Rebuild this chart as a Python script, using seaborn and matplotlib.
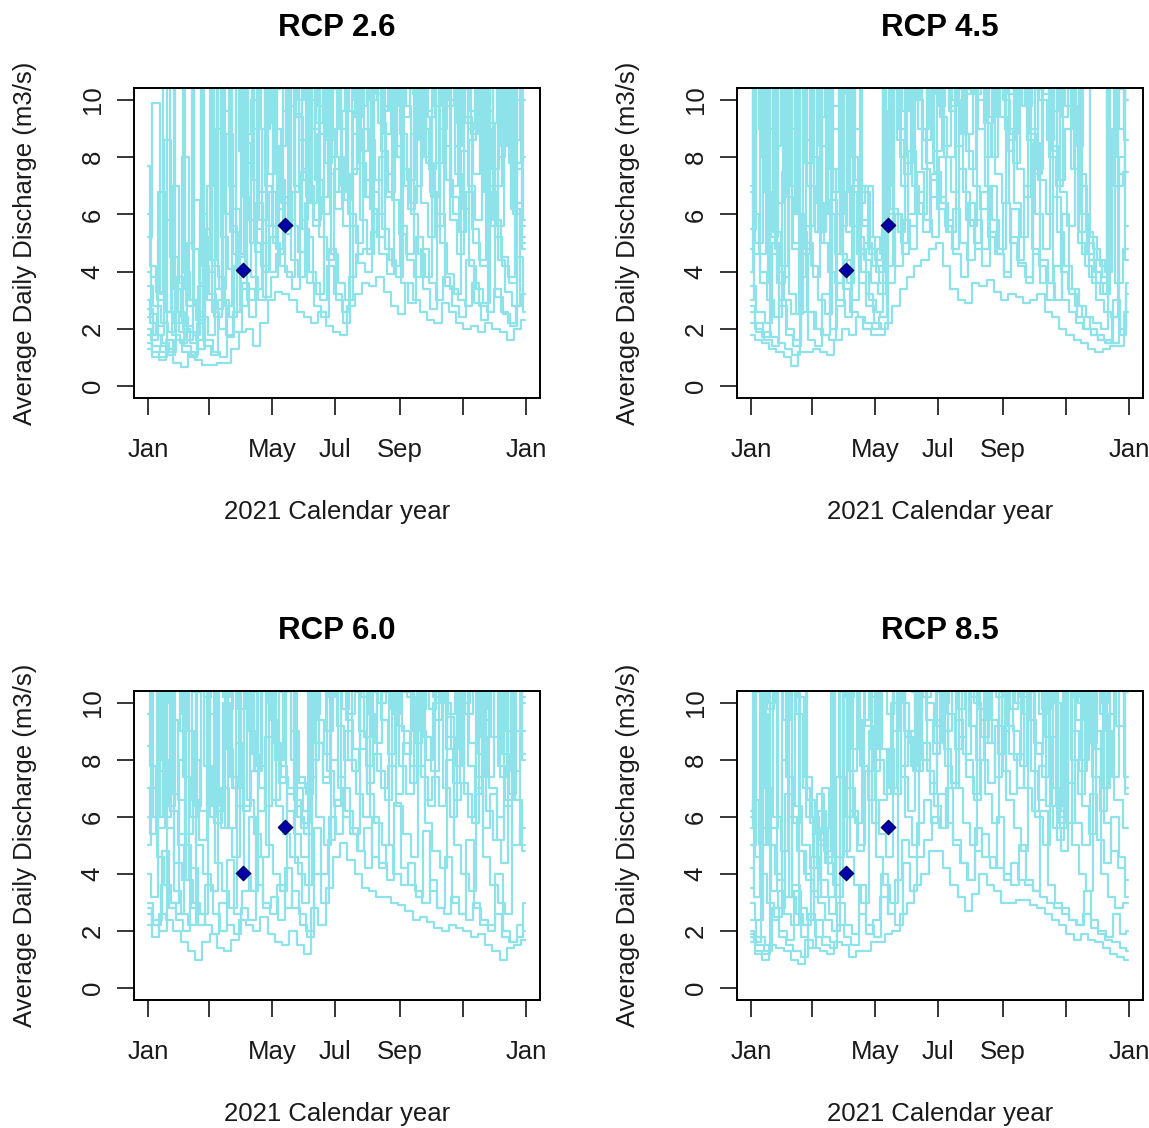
import matplotlib
matplotlib.use("Agg")
import matplotlib.pyplot as plt
import numpy as np
import pandas as pd
import seaborn as sns

# ---------------- data (weekly samples of daily discharge traces, m3/s) ----------------
start_date = "2021-01-01"
n_weeks = 53
trace_day_offsets = [0, 3, -2, 1, -3, 2, -1, 0.5, -1.5, 2.5, -2.5, 1.5]

titles = ["RCP 2.6", "RCP 4.5", "RCP 6.0", "RCP 8.5"]

rcp26_traces = [
    [1.3,1.0,0.9,1.6,0.8,0.66,1.2,0.9,0.75,0.72,0.8,0.8,1.3,1.9,2.0,1.4,2.2,3.0,3.3,3.2,3.0,2.6,2.4,2.2,2.6,2.1,1.9,1.8,2.8,3.2,3.6,3.5,3.8,3.3,2.8,2.5,3.6,3.0,2.6,2.3,2.2,2.9,2.6,2.2,2.0,2.1,1.9,2.2,2.0,1.9,1.6,2.0,2.3],
    [2.7,1.8,1.5,1.3,2.6,1.4,1.1,3.5,1.6,1.2,1.0,2.8,1.9,3.6,2.4,5.5,3.1,3.8,6.2,4.0,3.4,7.5,3.6,2.8,2.4,4.8,3.0,2.2,5.6,4.3,4.0,6.8,4.6,3.9,8.0,3.6,2.9,5.2,3.4,2.7,6.0,3.5,2.8,2.4,4.4,2.9,2.3,7.0,3.1,2.5,2.1,4.5,2.6],
    [4.0,2.5,2.1,5.8,2.6,1.9,1.6,6.5,2.4,1.8,9.0,3.0,2.4,4.5,8.5,3.8,3.0,12.0,5.0,4.2,3.8,9.5,5.5,4.0,3.2,12.0,4.6,3.6,3.0,8.8,5.8,4.6,11.0,5.5,4.4,3.8,9.8,6.0,4.6,3.8,12.0,5.0,3.9,3.2,8.2,4.2,3.4,2.9,11.0,4.4,3.3,2.8,5.6],
    [5.2,9.9,3.2,2.6,2.2,8.0,3.0,2.3,4.6,12.0,3.8,2.8,6.2,3.4,12.0,5.0,4.2,6.8,4.8,12.0,5.6,4.7,6.4,12.0,5.2,4.4,7.6,12.0,6.0,5.0,9.0,6.2,5.2,12.0,6.5,5.3,4.6,12.0,6.4,5.2,7.8,12.0,5.8,4.6,9.4,5.5,4.4,12.0,5.8,4.5,3.8,10.0,4.8],
    [7.7,4.2,3.3,12.0,4.5,3.4,12.0,4.8,3.6,7.0,12.0,5.2,4.1,12.0,6.6,5.0,12.0,7.0,5.6,8.4,12.0,7.0,5.8,12.0,7.2,6.0,12.0,8.0,6.5,12.0,7.8,6.6,12.0,8.2,6.8,12.0,7.6,6.4,12.0,8.0,6.6,12.0,7.2,6.0,12.0,7.0,5.8,12.0,6.8,5.6,12.0,6.2,5.0],
    [3.5,2.8,2.2,1.9,12.0,4.0,3.0,2.6,12.0,4.2,3.4,8.8,4.6,12.0,5.8,4.7,9.0,12.0,6.2,5.3,12.0,8.6,6.6,5.6,12.0,7.4,6.2,9.6,12.0,7.8,6.6,12.0,9.2,7.4,12.0,8.8,7.2,12.0,9.0,7.6,12.0,8.4,7.0,12.0,9.2,7.4,12.0,8.6,7.0,12.0,7.8,6.4,8.0],
    [2.0,1.6,6.8,2.6,1.8,1.5,5.0,12.0,4.2,3.2,2.7,12.0,5.4,4.0,12.0,7.2,5.8,12.0,8.0,6.4,12.0,9.4,7.2,12.0,9.8,7.8,12.0,9.0,12.0,10.0,8.2,12.0,10.2,12.0,9.6,8.0,12.0,10.4,8.6,12.0,9.8,12.0,10.0,8.4,12.0,9.6,12.0,9.0,7.6,12.0,9.2,7.8,10.0],
    [1.5,1.2,1.0,12.0,3.4,2.4,1.9,1.6,12.0,4.4,12.0,6.0,12.0,8.2,12.0,9.0,12.0,7.4,12.0,9.6,12.0,10.0,12.0,9.0,12.0,8.6,12.0,7.0,12.0,9.4,12.0,10.0,12.0,8.8,12.0,9.8,12.0,10.2,12.0,9.4,12.0,10.0,12.0,9.2,12.0,8.8,12.0,9.6,12.0,8.4,12.0,7.6,12.0],
    [6.0,3.8,3.0,2.6,7.0,3.6,2.8,12.0,5.2,4.0,3.4,9.6,5.6,4.6,7.8,12.0,6.8,5.6,9.0,6.6,5.8,12.0,7.6,6.4,8.8,12.0,8.0,6.8,9.6,7.6,12.0,8.6,7.2,9.8,12.0,8.4,7.0,8.8,12.0,7.8,6.6,9.0,12.0,7.4,6.2,8.6,12.0,6.8,5.6,8.0,12.0,6.0,5.2],
    [2.4,1.8,1.4,1.2,3.8,2.0,1.5,1.3,5.5,2.6,2.0,1.7,4.2,2.8,3.4,6.4,4.0,5.2,7.2,5.6,6.8,12.0,7.0,5.8,6.6,9.0,6.8,5.6,7.4,12.0,7.2,6.0,8.0,6.6,12.0,7.6,6.2,7.0,9.4,6.8,5.6,12.0,6.6,5.4,6.8,5.0,4.2,9.2,5.2,4.2,3.6,12.0,5.8],
    [3.0,2.2,1.8,8.6,3.6,2.6,2.1,1.8,6.0,3.0,2.4,12.0,7.0,12.0,8.8,10.0,12.0,9.2,10.4,12.0,9.8,10.6,12.0,10.0,9.2,12.0,10.4,9.6,12.0,10.8,9.8,12.0,10.6,9.6,12.0,10.4,9.4,12.0,10.2,9.6,12.0,10.8,9.8,12.0,10.4,9.0,12.0,10.2,9.2,12.0,9.6,8.6,12.0],
    [1.8,1.4,1.2,1.1,1.6,1.2,1.0,2.2,1.4,1.1,3.0,1.8,2.6,4.6,3.0,3.4,5.0,4.0,4.6,5.8,4.4,3.8,5.2,3.6,3.0,4.2,3.2,2.6,3.8,4.6,4.8,5.4,6.0,4.8,4.2,5.6,4.4,3.8,4.8,3.6,3.0,3.8,3.4,3.0,2.8,3.6,2.8,2.6,3.4,2.6,2.2,2.8,3.2],
]

rcp45_traces = [
    [1.8,1.6,1.5,1.3,1.2,1.0,0.7,1.2,1.2,1.3,1.2,1.1,1.6,2.0,1.8,2.4,2.0,1.8,1.8,2.2,2.8,3.4,3.8,4.2,4.4,4.8,5.0,4.2,3.4,3.0,2.9,3.6,3.5,3.7,3.3,3.0,3.2,3.1,2.9,3.0,3.2,2.6,2.4,2.0,1.8,1.6,1.5,1.3,1.2,1.3,1.4,1.4,2.6],
    [3.5,2.6,2.2,5.0,2.8,2.0,1.6,4.6,2.6,2.0,1.8,6.5,3.0,2.4,7.0,3.6,2.8,2.2,2.0,6.0,4.2,5.8,4.8,7.5,5.8,5.2,8.0,5.8,4.6,3.8,6.4,4.8,4.2,7.0,4.6,3.8,6.2,4.3,3.6,8.5,4.4,3.6,3.0,6.0,3.2,2.4,2.0,1.8,1.6,1.5,3.0,2.0,3.2],
    [4.8,12.0,4.0,3.0,2.4,7.5,3.2,2.5,12.0,4.2,3.0,2.5,12.0,4.6,3.6,9.0,4.0,3.0,2.6,12.0,6.2,5.4,12.0,7.0,6.0,12.0,7.5,6.4,5.4,12.0,6.8,5.6,12.0,7.0,5.8,4.8,12.0,6.4,5.2,12.0,6.0,4.8,12.0,5.4,4.2,3.4,2.8,2.4,2.2,2.0,12.0,3.6,4.8],
    [6.8,5.0,12.0,4.6,3.6,12.0,4.8,3.8,5.6,12.0,5.0,4.0,3.6,12.0,5.6,4.6,5.0,4.2,3.6,4.2,12.0,7.0,6.0,12.0,7.6,6.6,12.0,8.0,6.8,12.0,8.2,7.0,6.2,12.0,7.4,6.4,12.0,7.6,6.6,12.0,7.2,6.0,12.0,6.8,5.6,12.0,4.6,3.8,3.0,2.6,2.4,12.0,5.6],
    [12.0,6.0,4.6,12.0,5.4,4.2,12.0,6.0,4.6,12.0,6.4,5.0,12.0,6.8,5.4,12.0,5.8,4.8,4.4,5.5,12.0,8.6,7.4,12.0,9.0,7.8,12.0,9.4,8.0,12.0,8.8,7.6,12.0,9.2,8.0,12.0,9.0,7.8,12.0,8.6,7.4,12.0,8.0,7.0,12.0,7.6,5.0,4.2,3.6,3.2,12.0,7.0,7.5],
    [5.5,12.0,6.8,5.2,12.0,6.6,5.0,12.0,7.0,5.4,12.0,7.6,6.0,12.0,8.0,6.4,7.0,5.2,4.6,8.0,12.0,9.6,12.0,10.0,8.6,12.0,9.8,12.0,10.0,8.8,12.0,10.2,12.0,9.4,12.0,10.0,8.8,12.0,9.8,12.0,10.0,8.6,12.0,9.4,12.0,8.4,12.0,5.2,4.4,4.0,9.0,12.0,10.0],
    [3.0,12.0,8.0,12.0,6.4,12.0,7.0,12.0,7.8,12.0,8.4,12.0,9.0,12.0,9.6,12.0,6.8,4.8,4.2,12.0,10.4,12.0,10.0,12.0,10.6,12.0,10.2,12.0,9.8,12.0,10.4,12.0,10.0,12.0,10.6,12.0,10.2,12.0,9.8,12.0,10.4,12.0,9.6,12.0,9.8,12.0,7.0,5.0,4.4,3.8,12.0,9.0,12.0],
    [2.6,2.0,1.7,12.0,4.0,3.0,2.5,12.0,5.0,3.8,12.0,6.0,4.6,12.0,6.8,5.2,4.4,3.6,3.2,12.0,12.0,8.0,12.0,12.0,9.0,12.0,12.0,8.4,12.0,12.0,8.8,12.0,12.0,9.2,12.0,12.0,8.6,12.0,12.0,9.0,12.0,12.0,8.2,12.0,12.0,7.6,6.0,4.4,3.6,3.2,12.0,7.4,12.0],
    [7.0,4.6,3.6,9.0,4.8,3.8,12.0,6.0,4.8,8.0,5.4,12.0,6.8,5.6,12.0,7.2,5.6,4.6,4.0,7.0,12.0,9.0,7.8,10.0,12.0,9.2,8.2,12.0,9.6,8.4,10.2,12.0,9.0,8.0,12.0,9.4,8.2,10.0,12.0,8.8,7.6,12.0,8.4,7.2,9.0,12.0,5.4,4.6,4.0,3.6,8.0,12.0,8.6],
    [2.2,1.9,1.6,1.4,3.0,1.8,1.4,2.6,1.6,1.4,3.2,2.0,2.8,4.4,3.0,4.8,3.2,2.6,2.4,3.6,6.0,4.6,5.6,6.8,5.8,7.4,6.6,5.4,6.2,5.0,4.4,5.8,4.8,5.4,4.6,4.0,5.2,4.2,3.8,4.6,3.6,3.0,4.2,3.0,2.6,2.2,2.0,1.8,1.6,1.5,2.4,1.8,3.6],
    [4.0,12.0,9.0,12.0,8.4,12.0,9.0,12.0,8.6,12.0,9.4,12.0,9.8,12.0,10.2,12.0,7.0,5.2,4.8,12.0,12.0,10.6,12.0,11.0,12.0,10.8,12.0,11.0,12.0,10.4,12.0,10.8,12.0,11.0,12.0,10.6,12.0,10.4,12.0,10.8,12.0,10.2,12.0,10.6,12.0,9.8,7.4,5.4,4.8,4.2,12.0,10.4,12.0],
    [2.8,2.2,1.9,1.7,1.5,1.3,1.1,5.4,2.6,2.0,1.8,1.6,7.6,3.4,2.6,2.4,2.2,2.0,2.4,9.6,6.0,5.0,8.2,6.4,5.4,7.2,6.2,5.6,4.8,7.6,5.8,5.0,6.8,5.2,4.6,6.4,5.0,4.4,7.0,4.8,4.2,3.6,6.6,4.0,3.4,2.8,2.4,2.0,1.8,1.6,1.5,8.0,4.4],
]

rcp60_traces = [
    [2.2,1.8,2.6,2.4,2.0,1.6,1.3,1.0,1.6,1.9,1.4,1.3,1.7,2.4,2.2,2.0,2.5,1.9,1.6,1.5,2.0,1.5,1.2,2.8,2.2,3.5,4.6,5.1,4.5,4.0,3.5,3.4,3.2,3.2,3.0,2.9,2.7,2.4,2.5,2.3,2.1,2.0,2.2,2.1,2.0,1.8,1.9,1.5,1.3,1.0,1.4,1.5,1.7],
    [3.0,2.4,4.8,3.0,2.6,5.0,2.8,2.2,3.6,2.6,2.0,4.5,2.6,3.4,6.0,3.6,2.8,3.2,2.4,4.2,2.8,2.2,1.8,4.0,3.0,6.0,5.4,7.0,5.6,4.8,4.2,6.0,4.4,3.8,6.5,4.2,3.6,3.2,5.5,3.4,2.8,4.6,3.0,2.6,5.2,2.8,2.4,2.2,4.0,2.0,1.6,1.8,3.0],
    [5.0,12.0,4.6,3.6,3.0,8.0,3.8,3.0,2.6,12.0,4.4,3.4,2.8,7.4,4.0,3.4,12.0,5.0,4.0,3.4,6.8,4.4,3.0,12.0,6.0,5.0,12.0,7.4,6.2,5.4,12.0,6.8,5.8,5.0,12.0,6.4,5.4,4.6,12.0,5.8,4.8,4.2,9.5,5.0,4.0,3.4,12.0,4.6,3.6,3.0,2.6,12.0,5.0],
    [8.5,6.0,12.0,5.6,4.4,3.8,12.0,5.0,4.0,3.4,12.0,5.6,4.6,12.0,6.6,5.4,4.6,12.0,6.4,5.4,4.6,4.0,3.6,8.0,12.0,7.6,6.4,12.0,8.0,6.8,6.0,12.0,7.6,6.6,12.0,7.8,6.8,12.0,7.4,6.4,12.0,7.0,6.0,12.0,6.8,5.8,12.0,6.2,5.2,4.4,12.0,6.6,4.8],
    [12.0,7.8,6.0,12.0,6.2,5.0,12.0,6.6,5.2,12.0,7.0,5.6,12.0,7.4,6.2,12.0,7.8,6.4,12.0,7.2,12.0,6.6,5.6,12.0,8.6,7.4,12.0,9.2,8.0,12.0,9.0,7.8,12.0,9.4,8.2,12.0,9.0,7.8,12.0,8.8,7.6,12.0,8.4,7.2,12.0,7.8,6.8,12.0,7.0,6.0,12.0,7.6,9.0],
    [6.0,12.0,8.0,6.4,12.0,7.4,6.0,12.0,7.8,6.4,12.0,8.4,7.0,12.0,9.0,7.6,12.0,9.4,8.0,12.0,9.0,7.2,6.8,9.6,12.0,10.2,12.0,9.8,12.0,10.4,8.8,12.0,10.0,12.0,9.6,12.0,10.2,8.6,12.0,9.8,12.0,10.0,8.4,12.0,9.6,12.0,8.8,7.4,12.0,8.2,6.8,12.0,8.2],
    [4.0,3.2,12.0,10.0,12.0,9.0,12.0,10.4,12.0,9.6,12.0,10.2,12.0,9.8,12.0,10.6,12.0,10.0,12.0,10.4,12.0,7.0,6.2,12.0,10.8,12.0,10.4,12.0,11.0,12.0,10.2,12.0,10.6,12.0,10.0,12.0,10.4,12.0,9.8,12.0,10.2,12.0,9.6,12.0,10.0,12.0,9.4,12.0,8.8,12.0,9.0,12.0,10.0],
    [2.8,2.2,2.0,12.0,3.4,2.6,2.2,12.0,12.0,6.0,12.0,12.0,7.0,12.0,12.0,7.6,12.0,12.0,8.0,12.0,12.0,6.0,5.4,12.0,12.0,9.0,12.0,12.0,9.6,12.0,12.0,9.2,12.0,12.0,9.8,12.0,12.0,9.0,12.0,12.0,9.4,12.0,12.0,8.8,12.0,12.0,8.2,12.0,12.0,7.4,12.0,12.0,8.0],
    [9.6,7.0,5.6,12.0,6.8,5.4,9.0,6.4,12.0,7.6,6.2,10.0,7.4,6.4,12.0,8.2,7.0,12.0,8.6,7.4,7.0,6.4,5.8,12.0,9.4,8.2,10.6,12.0,9.4,8.4,12.0,9.6,8.6,10.4,12.0,9.2,8.2,12.0,9.0,8.0,10.0,12.0,8.8,7.8,12.0,8.6,7.4,9.4,12.0,7.8,6.6,9.0,12.0],
    [2.6,2.2,3.6,2.8,2.4,2.0,4.2,2.6,2.2,1.9,3.0,2.2,1.9,2.8,2.4,4.6,3.0,2.6,3.6,2.8,3.4,2.6,2.0,5.6,4.0,5.2,6.6,6.0,5.4,4.8,5.6,4.6,4.2,5.0,4.0,3.6,4.4,3.4,3.0,3.8,2.8,2.6,3.2,2.6,2.4,3.0,2.2,2.0,2.6,1.8,1.6,2.2,2.0],
    [7.0,5.4,7.6,6.0,9.4,6.6,5.4,8.0,6.2,7.4,5.8,7.0,5.6,8.6,6.4,7.6,6.2,8.8,6.6,7.8,6.2,5.4,4.6,7.4,8.6,7.2,8.0,7.0,9.0,7.6,8.4,7.2,8.2,7.0,7.8,6.8,8.6,7.2,7.8,6.6,7.4,6.4,8.0,6.6,7.2,6.0,7.0,5.6,6.8,5.2,6.4,5.0,5.6],
    [12.0,12.0,10.0,12.0,12.0,9.6,12.0,12.0,10.2,12.0,12.0,9.8,12.0,12.0,10.4,12.0,12.0,10.0,12.0,12.0,8.0,7.4,7.0,12.0,12.0,10.6,12.0,12.0,10.8,12.0,12.0,10.4,12.0,12.0,10.6,12.0,12.0,10.2,12.0,12.0,10.4,12.0,12.0,10.0,12.0,12.0,9.8,12.0,12.0,9.4,12.0,12.0,10.2],
]

rcp85_traces = [
    [1.8,1.2,1.0,1.5,1.4,1.3,1.0,0.85,1.7,1.4,1.3,1.2,1.6,1.5,1.1,1.3,1.3,1.6,1.6,1.9,2.0,2.6,3.0,3.6,4.0,4.8,4.8,4.2,3.6,3.2,2.7,3.3,4.0,3.6,3.4,3.0,3.0,3.1,3.1,2.9,2.8,2.6,2.4,2.2,1.9,1.7,1.9,1.7,1.6,1.4,1.2,1.1,1.0],
    [2.4,1.8,1.5,2.8,2.0,1.7,3.4,1.8,1.4,2.4,1.8,1.6,3.0,2.2,1.9,3.6,2.2,1.8,4.0,2.6,2.2,4.4,3.4,4.6,5.2,6.0,5.6,7.0,5.2,4.4,3.8,5.6,4.6,4.2,6.0,4.0,3.6,5.0,3.8,3.4,6.2,3.6,3.0,2.8,2.4,2.2,3.4,2.4,2.0,1.8,2.6,1.9,2.0],
    [3.5,12.0,4.0,3.0,2.5,8.0,3.2,2.6,2.2,4.6,3.0,2.4,2.0,12.0,4.6,3.6,3.0,9.0,4.6,3.6,3.0,12.0,6.0,5.0,12.0,7.6,6.4,5.6,12.0,7.0,5.8,5.0,12.0,6.8,5.8,12.0,6.6,5.6,4.8,12.0,6.0,5.0,12.0,5.2,12.0,5.0,4.0,3.4,9.0,4.0,3.2,2.8,3.0],
    [6.2,4.6,12.0,5.0,3.8,3.2,12.0,4.8,3.8,3.2,5.6,4.0,3.2,12.0,6.0,4.8,12.0,6.6,5.4,4.6,12.0,7.4,6.2,12.0,8.0,6.8,12.0,8.4,7.2,12.0,8.0,6.8,12.0,8.6,7.4,12.0,8.2,7.0,12.0,7.6,6.6,12.0,7.0,6.0,5.8,12.0,6.4,5.4,12.0,5.8,4.8,4.2,3.2],
    [5.6,6.6,5.0,12.0,6.0,4.8,12.0,6.4,5.0,4.2,6.8,4.8,12.0,7.4,6.0,12.0,7.8,6.6,12.0,8.4,7.0,12.0,9.0,7.8,12.0,9.4,8.2,12.0,9.6,8.4,12.0,9.2,8.0,12.0,9.4,8.2,12.0,9.0,7.8,12.0,8.6,7.4,12.0,6.4,12.0,8.0,6.8,12.0,7.4,6.2,12.0,6.6,5.6],
    [5.0,12.0,7.0,5.6,12.0,7.4,5.8,12.0,6.6,5.4,7.0,5.6,4.6,12.0,8.4,12.0,9.2,7.6,12.0,9.6,12.0,10.0,8.6,12.0,10.2,12.0,10.4,9.0,12.0,10.6,12.0,10.0,8.8,12.0,10.2,12.0,9.8,12.0,10.4,12.0,9.6,12.0,10.0,6.2,12.0,9.4,12.0,8.6,12.0,9.0,7.4,12.0,7.0],
    [2.0,1.6,12.0,10.0,12.0,9.4,12.0,10.2,7.4,6.0,5.2,4.6,12.0,10.4,12.0,10.8,12.0,10.2,12.0,10.6,12.0,11.0,12.0,10.4,12.0,10.8,12.0,10.0,12.0,10.6,12.0,10.2,12.0,10.8,12.0,10.4,12.0,10.0,12.0,10.6,12.0,9.8,12.0,6.0,12.0,10.2,12.0,9.6,12.0,10.0,12.0,9.2,12.0],
    [1.6,1.3,1.2,12.0,3.4,2.6,2.2,12.0,6.0,4.6,3.8,3.2,12.0,12.0,7.6,12.0,12.0,8.4,12.0,12.0,9.0,12.0,12.0,9.6,12.0,12.0,9.2,12.0,12.0,9.8,12.0,12.0,9.4,12.0,12.0,9.0,12.0,12.0,9.6,12.0,12.0,8.8,6.4,5.6,12.0,12.0,8.0,12.0,12.0,7.0,12.0,12.0,6.8],
    [4.2,3.2,9.6,5.0,4.0,12.0,6.0,4.8,4.0,3.4,6.2,4.4,3.6,12.0,7.0,5.8,9.4,12.0,8.0,6.8,10.0,12.0,8.8,7.6,12.0,10.0,8.6,10.8,12.0,9.4,8.2,12.0,9.8,8.6,10.6,12.0,9.2,8.0,12.0,9.4,8.2,12.0,8.8,5.8,12.0,9.0,7.6,12.0,8.4,7.0,9.6,12.0,7.4],
    [1.9,1.5,1.3,2.4,1.8,1.5,1.3,1.1,2.6,1.8,1.5,1.4,2.2,1.8,1.5,2.6,1.9,2.4,3.2,2.6,3.8,5.2,4.6,5.8,6.6,5.8,6.8,5.8,5.0,4.4,3.8,4.8,5.4,4.6,4.2,3.8,4.4,3.8,3.6,3.4,3.2,3.0,2.8,2.6,2.4,2.2,2.6,2.1,1.9,1.7,1.6,1.4,1.3],
    [6.0,10.4,12.0,9.8,12.0,10.6,12.0,9.6,7.0,5.8,5.0,4.4,12.0,12.0,10.2,12.0,12.0,10.6,12.0,12.0,10.8,12.0,12.0,10.4,12.0,12.0,11.0,12.0,12.0,10.6,12.0,12.0,10.8,12.0,12.0,10.4,12.0,12.0,10.2,12.0,12.0,9.8,12.0,6.2,12.0,12.0,10.0,12.0,12.0,9.6,12.0,12.0,10.4],
    [3.0,2.4,5.6,3.4,2.8,6.8,3.6,2.8,2.4,5.4,3.2,2.6,7.4,4.8,6.2,5.0,7.6,5.8,6.6,8.4,6.8,7.8,9.0,7.6,8.6,7.2,9.4,7.8,7.0,8.8,7.4,6.6,8.0,7.2,9.2,7.6,6.8,8.2,7.0,6.2,7.8,6.4,5.6,4.8,7.2,5.8,5.0,6.8,5.2,4.4,6.0,4.6,3.8],
]

obs_dates = ["2021-04-03", "2021-05-13"]
obs_values = [4.04, 5.64]

tick_dates = ["2021-01-01", "2021-03-01", "2021-05-01", "2021-07-01",
              "2021-09-01", "2021-11-01", "2022-01-01"]
tick_labels = ["Jan", "", "May", "Jul", "Sep", "", "Jan"]
y_ticks = [0, 2, 4, 6, 8, 10]

x_label = "2021 Calendar year"
y_label = "Average Daily Discharge (m3/s)"

# ---------------- styling ----------------
sns.set_style("ticks")
plt.rcParams["font.family"] = ["Liberation Sans", "DejaVu Sans"]

line_color = "#8EE2EA"
point_color = "#0000A8"

W, H = 1149, 1128
fig = plt.figure(figsize=(W / 100, H / 100), dpi=100)

# panel boxes in pixels: (left, top, width, height)
boxes = [(134, 88, 406, 310), (737, 88, 406, 310),
         (134, 691, 406, 309), (737, 691, 406, 309)]

all_traces = [rcp26_traces, rcp45_traces, rcp60_traces, rcp85_traces]
t0 = pd.Timestamp(start_date)


def sample_dates(offset):
    days = [0.0] + [7.0 * i + offset for i in range(1, n_weeks - 1)] + [7.0 * (n_weeks - 1)]
    return [t0 + pd.Timedelta(days=d) for d in days]


for (l, t, w, h), title, traces in zip(boxes, titles, all_traces):
    ax = fig.add_axes([l / W, 1 - (t + h) / H, w / W, h / H])
    rows = []
    for k, vals in enumerate(traces):
        assert len(vals) == n_weeks, (title, k, len(vals))
        for d, v in zip(sample_dates(trace_day_offsets[k]), vals):
            rows.append((d, v, k))
    df = pd.DataFrame(rows, columns=["date", "discharge", "trace"])
    sns.lineplot(data=df, x="date", y="discharge", units="trace",
                 estimator=None, color=line_color, linewidth=1.6,
                 drawstyle="steps-mid", ax=ax, legend=False, sort=False)
    sns.scatterplot(x=pd.to_datetime(obs_dates), y=obs_values, marker="D",
                    s=55, color=point_color, edgecolor="#000050",
                    linewidth=0.8, ax=ax, zorder=5, legend=False)

    ax.set_xlim(t0 - pd.Timedelta(days=13.5), t0 + pd.Timedelta(days=378.5))
    ax.set_ylim(-0.42, 10.42)
    ax.set_xticks(pd.to_datetime(tick_dates))
    ax.set_xticklabels(tick_labels)
    ax.set_yticks(y_ticks)
    ax.set_yticklabels([str(v) for v in y_ticks])

    ax.tick_params(axis="both", direction="out", length=12, width=1.1,
                   colors="black", labelsize=18.5, labelcolor="#1a1a1a")
    ax.tick_params(axis="x", pad=17)
    ax.tick_params(axis="y", pad=9, labelrotation=90)
    for lab in ax.get_yticklabels():
        lab.set_va("center")

    for s in ax.spines.values():
        s.set_visible(True)
        s.set_color("black")
        s.set_linewidth(1.4)

    ax.set_xlabel(x_label, fontsize=18.5, color="#1a1a1a")
    ax.xaxis.set_label_coords(0.5, -114 / h)
    ax.xaxis.label.set_va("center")
    ax.set_ylabel(y_label, fontsize=18.5, color="#1a1a1a")
    ax.yaxis.set_label_coords(-109 / w, 0.5)
    ax.yaxis.label.set_va("center")

    ax.set_title(title, fontsize=22.5, fontweight="bold", y=1 + 60 / h,
                 va="center", pad=0, color="black")

fig.savefig("out.png", dpi=100)
